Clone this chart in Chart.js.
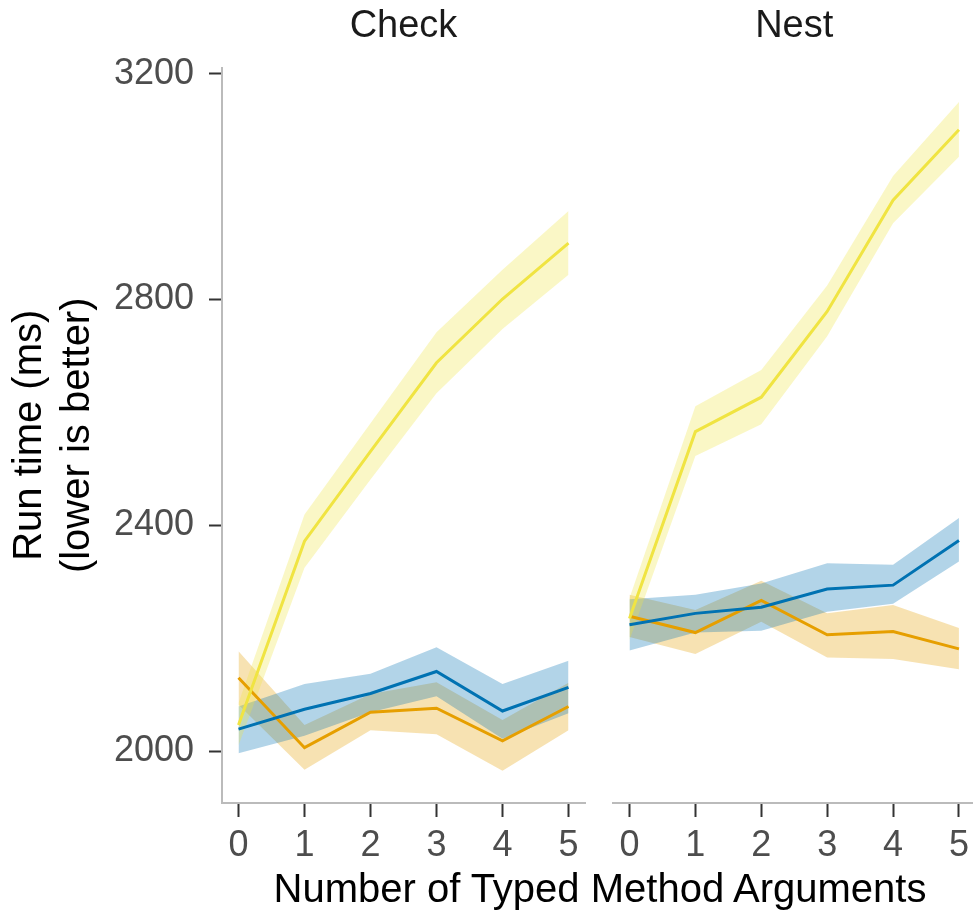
<!DOCTYPE html>
<html>
<head>
<meta charset="utf-8">
<script src="https://cdn.jsdelivr.net/npm/chart.js@4"></script>
<style>
  body { margin: 0; background: #fff; overflow: hidden; }
  #wrap { position: relative; width: 973px; height: 910px; overflow: hidden; }
  canvas { position: absolute; top: 0; }
  #xtitle {
    position: absolute; left: 0; width: 1200px; top: 864px;
    text-align: center; font: 40px "Liberation Sans"; line-height: 48px; color: #000;
  }
</style>
</head>
<body>
<div id="wrap">
  <canvas id="check" width="600" height="910" style="left:0"></canvas>
  <canvas id="nest" width="376" height="910" style="left:600px"></canvas>
  <div id="xtitle">Number of Typed Method Arguments</div>
</div>
<script>
const xTicks = [0, 1, 2, 3, 4, 5];
const yTicks = [2000, 2400, 2800, 3200];
const panels = ["Check", "Nest"];

// Check panel: mean line plus ribbon bounds
const checkYellow   = [2046, 2372, 2531, 2688, 2801, 2900];
const checkYellowLo = [2010, 2325, 2481, 2634, 2748, 2844];
const checkYellowHi = [2085, 2419, 2581, 2742, 2853, 2957];
const checkBlue     = [2039, 2074, 2102, 2141, 2071, 2113];
const checkBlueLo   = [1996, 2027, 2069, 2097, 2022, 2067];
const checkBlueHi   = [2079, 2119, 2137, 2184, 2119, 2160];
const checkOrange   = [2130, 2006, 2069, 2076, 2018, 2079];
const checkOrangeLo = [2082, 1967, 2037, 2030, 1965, 2037];
const checkOrangeHi = [2177, 2046, 2101, 2122, 2055, 2121];

// Nest panel
const nestYellow   = [2235, 2566, 2627, 2779, 2976, 3101];
const nestYellowLo = [2197, 2523, 2579, 2735, 2935, 3053];
const nestYellowHi = [2271, 2611, 2675, 2825, 3019, 3150];
const nestBlue     = [2224, 2244, 2255, 2287, 2294, 2373];
const nestBlueLo   = [2178, 2210, 2213, 2247, 2261, 2336];
const nestBlueHi   = [2269, 2277, 2297, 2333, 2330, 2413];
const nestOrange   = [2239, 2210, 2267, 2206, 2212, 2181];
const nestOrangeLo = [2202, 2172, 2229, 2166, 2163, 2145];
const nestOrangeHi = [2277, 2250, 2302, 2244, 2259, 2218];

const colors = {
  yellow: ["#F0E442", "rgba(240,228,66,0.3)"],
  blue:   ["#0072B2", "rgba(0,114,178,0.3)"],
  orange: ["#E69F00", "rgba(230,159,0,0.3)"]
};

const FONT = "Liberation Sans";

function pts(arr) {
  return arr.map((v, i) => ({ x: xTicks[i], y: v }));
}

function buildDatasets(series) {
  const sets = [];
  series.forEach(s => {
    const fill = colors[s.color][1];
    const loIdx = sets.length;
    sets.push({ data: pts(s.lo), borderWidth: 0, pointRadius: 0, fill: false, order: 1 });
    sets.push({ data: pts(s.hi), borderWidth: 0, pointRadius: 0, backgroundColor: fill,
                fill: { target: loIdx }, order: 1 });
  });
  series.forEach(s => {
    sets.push({ data: pts(s.mean), borderColor: colors[s.color][0], borderWidth: 3,
                pointRadius: 0, fill: false, tension: 0, order: 0 });
  });
  return sets;
}

function makeChart(id, title, series, showY, padLeft, padRight) {
  new Chart(document.getElementById(id), {
    type: "line",
    data: { datasets: buildDatasets(series) },
    options: {
      responsive: false,
      animation: false,
      events: [],
      layout: { padding: { left: padLeft, right: padRight, top: 0, bottom: 0 } },
      plugins: {
        legend: { display: false },
        tooltip: { enabled: false },
        title: {
          display: true, text: title, fullSize: false,
          color: "#1a1a1a", font: { family: FONT, size: 38, weight: "normal" },
          padding: { top: 4, bottom: 18 }
        }
      },
      scales: {
        x: {
          type: "linear", min: -0.25, max: 5.25,
          afterBuildTicks: sc => { sc.ticks = xTicks.map(v => ({ value: v })); },
          afterFit: sc => { sc.height = 107; },
          ticks: { color: "#4d4d4d", font: { family: FONT, size: 36 }, padding: 7,
                   maxRotation: 0, autoSkip: false, callback: v => String(v) },
          grid: { drawOnChartArea: false, tickLength: 14, tickColor: "#333", tickWidth: 2 },
          border: { color: "#bbbbbb", width: 2 }
        },
        y: {
          display: showY,
          min: 1908, max: 3211,
          afterBuildTicks: sc => { sc.ticks = yTicks.map(v => ({ value: v })); },
          afterFit: sc => { if (showY) sc.width = 222; },
          ticks: { color: "#4d4d4d", font: { family: FONT, size: 36 }, padding: 15,
                   callback: v => String(v) },
          grid: { drawOnChartArea: false, tickLength: 13, tickColor: "#333", tickWidth: 2 },
          border: { color: "#bbbbbb", width: 2 },
          title: {
            display: true, text: ["Run time (ms)", "(lower is better)"],
            color: "#000", font: { family: FONT, size: 40 }, padding: { top: 6, bottom: 0 }
          }
        }
      }
    }
  });
}

makeChart("check", panels[0], [
  { color: "yellow", mean: checkYellow, lo: checkYellowLo, hi: checkYellowHi },
  { color: "blue",   mean: checkBlue,   lo: checkBlueLo,   hi: checkBlueHi },
  { color: "orange", mean: checkOrange, lo: checkOrangeLo, hi: checkOrangeHi }
], true, 0, 15);

makeChart("nest", panels[1], [
  { color: "yellow", mean: nestYellow, lo: nestYellowLo, hi: nestYellowHi },
  { color: "blue",   mean: nestBlue,   lo: nestBlueLo,   hi: nestBlueHi },
  { color: "orange", mean: nestOrange, lo: nestOrangeLo, hi: nestOrangeHi }
], false, 13, 0);
</script>
</body>
</html>
